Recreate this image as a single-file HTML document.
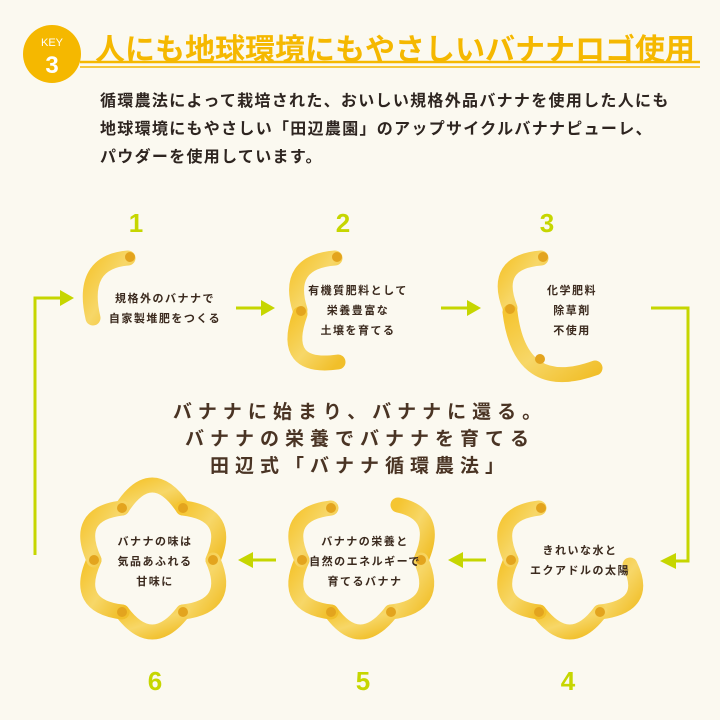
<!DOCTYPE html>
<html><head><meta charset="utf-8"><style>
body{margin:0;background:#fbf9f0;}
.wrap{position:relative;width:720px;height:720px;overflow:hidden;background:#fbf9f0;font-family:"Liberation Sans","Noto Sans CJK JP",sans-serif;}
.t{position:absolute;white-space:nowrap;}
</style></head><body><div class="wrap">
<svg width="720" height="720" style="position:absolute;left:0;top:0">
<defs>
<linearGradient id="g" x1="0" y1="0" x2="1" y2="1"><stop offset="0" stop-color="#f5c531"/><stop offset="0.5" stop-color="#f7d768"/><stop offset="1" stop-color="#f1bf2a"/></linearGradient>
</defs>
<line x1="80" y1="62" x2="700" y2="62" stroke="#f5b800" stroke-width="2.5"/>
<line x1="80" y1="67" x2="700" y2="67" stroke="#f5b800" stroke-width="1.5"/>
<circle cx="52" cy="54" r="29" fill="#f5b800"/>
<text x="52" y="46" font-size="11" fill="#fff" text-anchor="middle" font-family="Liberation Sans">KEY</text>
<text x="52" y="73" font-size="24" font-weight="bold" fill="#fff" text-anchor="middle" font-family="Liberation Sans">3</text>
<g font-family="Liberation Sans" font-weight="bold" font-size="26" fill="#c6d600" text-anchor="middle">
<text x="136" y="232">1</text><text x="343" y="232">2</text><text x="547" y="232">3</text>
<text x="155" y="690">6</text><text x="363" y="690">5</text><text x="568" y="690">4</text>
</g>
<g stroke="#c6d600" stroke-width="3" fill="none">
<line x1="236" y1="308" x2="262" y2="308"/>
<line x1="441" y1="308" x2="468" y2="308"/>
<path d="M651 308 H688 V561 H675"/>
<path d="M35 555 V298 H60"/>
<line x1="276" y1="560" x2="252" y2="560"/>
<line x1="486" y1="560" x2="462" y2="560"/>
</g>
<g fill="#c6d600">
<polygon points="275,308 261,300 261,316"/>
<polygon points="481,308 467,300 467,316"/>
<polygon points="660,561 676,553 676,569"/>
<polygon points="74,298 60,290 60,306"/>
<polygon points="238,560 253,552 253,568"/>
<polygon points="448,560 463,552 463,568"/>
</g>
<g stroke="url(#g)" stroke-width="15" fill="none" stroke-linecap="round">
<path d="M128 258 Q80 262 93 318"/>
<path d="M335 258 Q285 262 300 310"/>
<path d="M300 314 Q280 370 338 362"/>
<path d="M541 258 Q492 262 510 308"/>
<path d="M510 312 Q520 395 595 368"/>
<path d="M122 508 Q152 462 183 508"/>
<path d="M183 508 Q233 514 213 560"/>
<path d="M213 560 Q233 606 183 612"/>
<path d="M183 612 Q152 652 122 612"/>
<path d="M122 612 Q73 606 94 560"/>
<path d="M94 560 Q73 514 122 508"/>
<path d="M398 505 Q441 514 421 560"/>
<path d="M421 560 Q441 606 391 612"/>
<path d="M391 612 Q360 652 331 612"/>
<path d="M331 612 Q281 606 302 560"/>
<path d="M302 560 Q281 514 331 508"/>
<path d="M630 565 Q650 606 600 612"/>
<path d="M600 612 Q570 652 539 612"/>
<path d="M539 612 Q490 606 511 560"/>
<path d="M511 560 Q490 514 539 508"/>
</g>
<g fill="#e3a41e">
<circle cx="130" cy="257" r="5"/><circle cx="337" cy="257" r="5"/><circle cx="301" cy="311" r="5"/>
<circle cx="543" cy="257" r="5"/><circle cx="510" cy="309" r="5"/><circle cx="540" cy="359" r="5"/>
<circle cx="122" cy="508" r="5"/><circle cx="183" cy="508" r="5"/><circle cx="213" cy="560" r="5"/><circle cx="183" cy="612" r="5"/><circle cx="122" cy="612" r="5"/><circle cx="94" cy="560" r="5"/>
<circle cx="331" cy="508" r="5"/><circle cx="421" cy="560" r="5"/><circle cx="391" cy="612" r="5"/><circle cx="331" cy="612" r="5"/><circle cx="302" cy="560" r="5"/>
<circle cx="541" cy="508" r="5"/><circle cx="511" cy="560" r="5"/><circle cx="539" cy="612" r="5"/><circle cx="600" cy="612" r="5"/>
</g>
<g font-family="Liberation Sans,Noto Sans CJK JP,sans-serif" font-weight="bold" font-size="11" fill="#3b2a1e" text-anchor="middle" letter-spacing="1.5">
<text x="165" y="302">規格外のバナナで</text><text x="165" y="322">自家製堆肥をつくる</text>
<text x="358" y="294">有機質肥料として</text><text x="358" y="314">栄養豊富な</text><text x="358" y="334">土壌を育てる</text>
<text x="572" y="294">化学肥料</text><text x="572" y="314">除草剤</text><text x="572" y="334">不使用</text>
<text x="155" y="545">バナナの味は</text><text x="155" y="565">気品あふれる</text><text x="155" y="585">甘味に</text>
<text x="365" y="545">バナナの栄養と</text><text x="365" y="565">自然のエネルギーで</text><text x="365" y="585">育てるバナナ</text>
<text x="580" y="554">きれいな水と</text><text x="580" y="574">エクアドルの太陽</text>
</g>
<g font-family="Liberation Sans,Noto Sans CJK JP,sans-serif" font-size="19" font-weight="bold" fill="#4a3424" text-anchor="middle" letter-spacing="6">
<text x="360" y="418">バナナに始まり、バナナに還る。</text>
<text x="360" y="445">バナナの栄養でバナナを育てる</text>
<text x="360" y="472">田辺式「バナナ循環農法」</text>
</g>
</svg>
<div class="t" style="left:95px;top:25px;font-size:30px;font-weight:bold;color:#f5b800;letter-spacing:0px;">人にも地球環境にもやさしいバナナロゴ使用</div>
<div class="t" style="left:100px;top:88px;font-size:16px;font-weight:bold;color:#2e2520;line-height:28px;letter-spacing:1.3px;">循環農法によって栽培された、おいしい規格外品バナナを使用した人にも<br>地球環境にもやさしい「田辺農園」のアップサイクルバナナピューレ、<br>パウダーを使用しています。</div>
</div></body></html>
